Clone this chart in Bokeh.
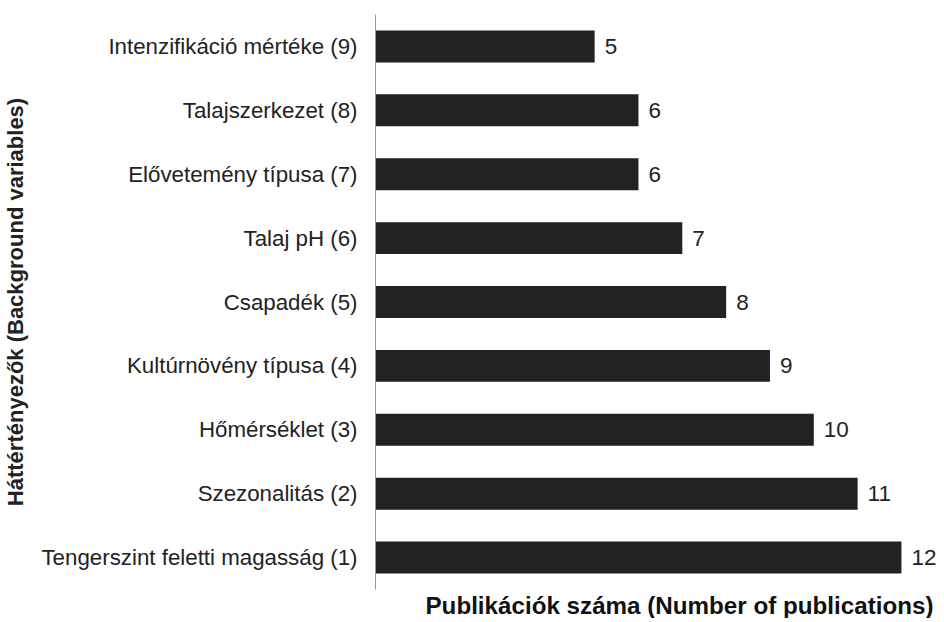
from bokeh.plotting import figure
from bokeh.models import ColumnDataSource, FactorRange, Range1d, Title
from bokeh.core.properties import value
from bokeh.embed import file_html
from bokeh.resources import INLINE

categories = [
    "Tengerszint feletti magasság (1)",
    "Szezonalitás (2)",
    "Hőmérséklet (3)",
    "Kultúrnövény típusa (4)",
    "Csapadék (5)",
    "Talaj pH (6)",
    "Elővetemény típusa (7)",
    "Talajszerkezet (8)",
    "Intenzifikáció mértéke (9)",
]
counts = [12, 11, 10, 9, 8, 7, 6, 6, 5]
count_labels = [str(c) for c in counts]

x_title = "Publikációk száma (Number of publications)"
y_title = "Háttértényezők (Background variables)"

X_END = 12.8

src = ColumnDataSource(dict(cat=categories, n=counts, lab=count_labels))

FONT = "Liberation Sans"
DARK = "#222222"

p = figure(
    width=936, height=618,
    y_range=FactorRange(factors=categories, range_padding=0),
    x_range=Range1d(0, X_END),
    output_backend="svg", toolbar_location=None,
    min_border_top=14, min_border_right=0, min_border_left=0, min_border_bottom=0,
)

p.hbar(y="cat", right="n", left=0, height=0.5, source=src,
       fill_color=DARK, line_color=None)

p.text(x="n", y="cat", text="lab", source=src, x_offset=10,
       text_align="left", text_baseline="middle",
       text_font=value(FONT), text_font_size="22.5px", text_color=DARK)

p.xaxis.visible = False
p.grid.visible = False
p.outline_line_color = None

ya = p.yaxis[0]
ya.axis_line_color = "#999999"
ya.axis_line_width = 1
ya.major_tick_line_color = None
ya.minor_tick_line_color = None
ya.major_label_standoff = 12
ya.major_label_text_font = FONT
ya.major_label_text_font_size = "22.3px"
ya.major_label_text_color = DARK
ya.axis_label = y_title
ya.axis_label_text_font = FONT
ya.axis_label_text_font_style = "bold"
ya.axis_label_text_font_size = "22px"
ya.axis_label_text_color = DARK
ya.axis_label_standoff = 10

t = Title(text=x_title, align="right", text_font=FONT, text_font_size="24.2px",
          text_font_style="bold", text_color="#111111", standoff=0,
          text_line_height=1.0, offset=3)
p.add_layout(t, "below")

open("out.html", "w").write(file_html(p, INLINE))
